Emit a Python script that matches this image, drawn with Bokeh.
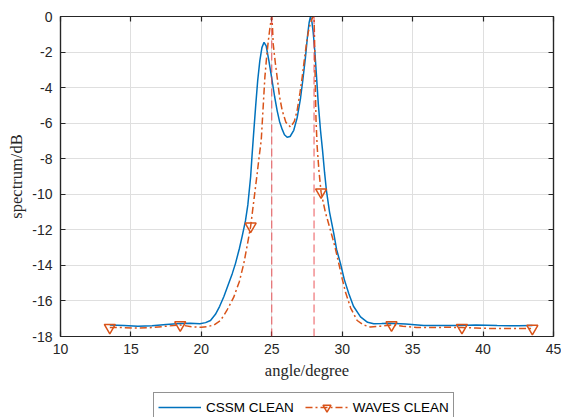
from bokeh.plotting import figure
from bokeh.layouts import column
from bokeh.models import (Range1d, FixedTicker, LinearAxis, Legend, LegendItem, Span,
                          CustomJSTickFormatter)
from bokeh.embed import file_html
from bokeh.resources import INLINE

angle_ticks = [10, 15, 20, 25, 30, 35, 40, 45]
db_ticks = [-18, -16, -14, -12, -10, -8, -6, -4, -2, 0]
true_angles = [25, 28]

cssm_angle = [13.5, 14.5, 15.5, 16.5, 17.5, 18.5, 19.2, 19.9, 20.3, 20.65, 21.0, 21.3, 21.6,
              21.9, 22.2, 22.42, 22.7, 22.9, 23.13, 23.3, 23.5, 23.6, 23.7, 23.85, 24.0, 24.15,
              24.3, 24.45, 24.6, 24.79, 25.0, 25.2, 25.38, 25.55, 25.74, 25.9, 26.09, 26.3,
              26.56, 26.8, 27.04, 27.2, 27.39, 27.55, 27.65, 27.75, 27.85, 27.94, 28.05, 28.17,
              28.3, 28.46, 28.6, 28.75, 28.88, 29.1, 29.4, 29.6, 29.88, 30.15, 30.47, 30.8,
              31.3, 31.8, 32.24, 32.8, 33.4, 34.5, 35.8, 37.0, 38.2, 39.5, 41.0, 42.5, 43.5]
cssm_db = [-17.35, -17.38, -17.42, -17.40, -17.32, -17.27, -17.25, -17.28, -17.22, -17.10, -16.75,
           -16.3, -15.75, -15.1, -14.45, -13.9, -13.05, -12.35, -11.5, -10.6, -9.0, -7.8, -6.7,
           -5.1, -3.6, -2.5, -1.75, -1.45, -1.65, -2.47, -3.5, -4.5, -5.29, -5.9, -6.35, -6.65,
           -6.79, -6.75, -6.4, -5.7, -4.6, -3.6, -2.3, -1.0, -0.35, 0.0, -0.3, -0.9, -1.9, -3.3,
           -4.9, -6.41, -7.5, -8.8, -9.79, -11.0, -12.2, -13.1, -13.91, -14.8, -15.6, -16.3,
           -16.9, -17.2, -17.28, -17.27, -17.25, -17.3, -17.38, -17.38, -17.38, -17.35, -17.38,
           -17.40, -17.38]

waves_angle = [13.5, 14.5, 15.5, 16.5, 17.5, 18.5, 19.3, 20.0, 20.41, 20.9, 21.36, 21.8, 22.3,
               22.7, 23.01, 23.25, 23.5, 23.75, 23.96, 24.1, 24.25, 24.38, 24.51, 24.62, 24.73,
               24.85, 24.95, 25.0, 25.05, 25.1, 25.25, 25.38, 25.55, 25.74, 26.0, 26.33, 26.6,
               26.8, 27.0, 27.16, 27.3, 27.46, 27.6, 27.75, 27.9, 28.0, 28.04, 28.08, 28.14,
               28.22, 28.35, 28.5, 28.8, 29.17, 29.5, 29.76, 30.0, 30.23, 30.6, 31.06,
               31.5, 32.0, 32.7, 33.5, 34.3, 35.3, 36.5, 37.5, 38.5, 39.5, 40.5, 41.5, 42.5, 43.5]
waves_db = [-17.50, -17.50, -17.53, -17.50, -17.42, -17.35, -17.45, -17.48, -17.45, -17.35, -17.1,
            -16.55, -15.79, -14.9, -13.91, -12.9, -11.8, -10.2, -8.85, -7.9, -6.97, -5.2, -3.41,
            -2.4, -1.54, -0.75, -0.2, 0.0, -0.6, -1.54, -2.6, -3.41, -4.5, -5.29, -5.95, -6.22,
            -5.9, -5.29, -4.3, -3.41, -2.5, -1.54, -0.85, -0.35, -0.05, 0.0, -1.5, -3.5, -5.8,
            -7.3, -8.7, -9.88, -11.0, -12.04, -13.0, -13.91, -14.75, -15.5, -16.4,
            -17.1, -17.35, -17.47, -17.42, -17.35, -17.42, -17.5, -17.5, -17.48, -17.5, -17.52,
            -17.55, -17.55, -17.55, -17.55]

marker_angle = [13.5, 18.5, 23.5, 28.5, 33.5, 38.5, 43.5]
marker_db = [-17.5, -17.35, -11.8, -9.88, -17.35, -17.5, -17.55]

BLUE = "#0072BD"
ORANGE = "#D95319"
DARK = "#262626"

p = figure(width=561, height=390, x_range=Range1d(10, 45), y_range=Range1d(-18, 0),
           output_backend="svg", toolbar_location=None,
           min_border_left=60, min_border_right=8, min_border_top=16, min_border_bottom=54)
p.background_fill_color = "white"
p.border_fill_color = "white"
p.outline_line_color = DARK
p.outline_line_width = 1.2

for ax in (p.xaxis[0], p.yaxis[0]):
    ax.major_tick_in = 5
    ax.major_tick_out = 0
    ax.minor_tick_in = 0
    ax.minor_tick_out = 0
    ax.axis_line_color = DARK
    ax.axis_line_width = 1.2
    ax.major_tick_line_color = DARK
    ax.major_tick_line_width = 1.2
    ax.major_label_text_font = "Liberation Sans"
    ax.major_label_text_font_size = "14px"
    ax.major_label_text_color = DARK
    ax.axis_label_text_font = "Liberation Serif"
    ax.axis_label_text_font_size = "16.5px"
    ax.axis_label_text_font_style = "normal"
    ax.axis_label_text_color = DARK

p.xaxis[0].ticker = FixedTicker(ticks=angle_ticks)
p.yaxis[0].ticker = FixedTicker(ticks=db_ticks)
p.yaxis[0].formatter = CustomJSTickFormatter(code="return tick.toString()")
p.xaxis[0].axis_label = "angle/degree"
p.yaxis[0].axis_label = "spectrum/dB"
p.xaxis[0].major_label_standoff = 7
p.xaxis[0].axis_label_standoff = 4
p.yaxis[0].major_label_standoff = 8
p.yaxis[0].axis_label_standoff = 3

for side, ticks in (("above", angle_ticks), ("right", db_ticks)):
    ax = LinearAxis(ticker=FixedTicker(ticks=ticks), major_tick_in=5, major_tick_out=0,
                    minor_tick_in=0, minor_tick_out=0,
                    formatter=CustomJSTickFormatter(code="return ''"),
                    major_label_standoff=0, axis_line_color=DARK, axis_line_width=1.2,
                    major_tick_line_color=DARK, major_tick_line_width=1.2)
    p.add_layout(ax, side)

p.xgrid.ticker = FixedTicker(ticks=angle_ticks)
p.ygrid.ticker = FixedTicker(ticks=db_ticks)
p.xgrid.grid_line_color = "#dfdfdf"
p.ygrid.grid_line_color = "#dfdfdf"

line_style = dict(line_color=BLUE, line_width=1.5)
dash_style = dict(line_color=ORANGE, line_width=1.5, line_dash="7 3 2 3")
mark_style = dict(marker="inverted_triangle", size=11, line_color=ORANGE, line_width=1.5,
                  fill_alpha=0)

p.line(cssm_angle, cssm_db, **line_style)
p.line(waves_angle, waves_db, **dash_style)
p.scatter(marker_angle, marker_db, **mark_style)

for a in true_angles:
    p.add_layout(Span(location=a, dimension="height", line_color="#e8383d", line_width=1,
                      line_alpha=0.85, line_dash="8 4"))

# legend strip under the chart (series redrawn outside its visible range, keys only)
lf = figure(width=561, height=27, x_range=Range1d(10, 45), y_range=Range1d(0, 1),
            output_backend="svg", toolbar_location=None, min_border=0,
            x_axis_location=None, y_axis_location=None)
lf.grid.visible = False
lf.outline_line_color = None
lf.background_fill_color = "white"
lf.border_fill_color = "white"
k1 = lf.line(cssm_angle, cssm_db, **line_style)
k2 = lf.line(waves_angle, waves_db, **dash_style)
k3 = lf.scatter(marker_angle, marker_db, **mark_style)
legend = Legend(items=[LegendItem(label="CSSM CLEAN", renderers=[k1]),
                       LegendItem(label="WAVES CLEAN", renderers=[k2, k3])],
                orientation="horizontal", location=(93, -5),
                border_line_color=DARK, border_line_width=1.2, background_fill_color="white",
                background_fill_alpha=1, label_text_font="Liberation Sans",
                label_text_font_size="13.5px", label_text_color="#000000",
                glyph_width=43, glyph_height=20, label_height=20, label_standoff=5,
                spacing=11, padding=4, margin=0)
lf.add_layout(legend, "center")

layout = column(p, lf, spacing=0)
open("out.html", "w").write(file_html(layout, INLINE))
